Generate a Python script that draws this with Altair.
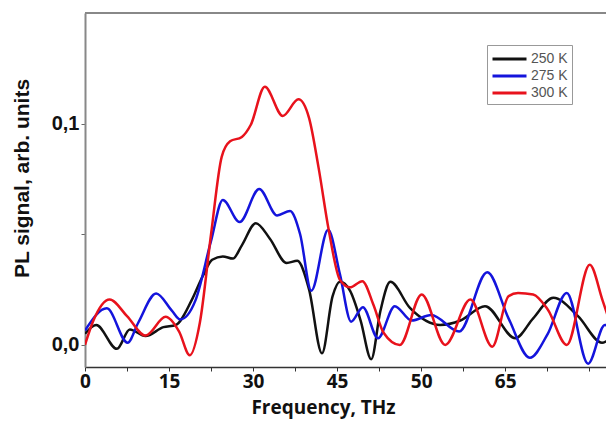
import altair as alt
import pandas as pd

# ---- data (x in axis units, y in arb. units) ----
red_x = [0, 1.5, 4.4, 7.5, 10.8, 14.4, 16.8, 18.7, 20.5, 22.5, 24.4, 25.9, 28.0, 29.6, 32.1,
         35.3, 38.1, 40.0, 41.7, 43.5, 45.5, 47.3, 49.5, 51.5, 53.3, 56.2, 60.1, 64.3, 68.8,
         72.7, 75.6, 77.3, 80.0, 82.6, 86.0, 90.1, 92.4, 94.4]
red_y = [0.000, 0.011, 0.0205, 0.013, 0.0042, 0.0127, 0.006, -0.0047, 0.010, 0.050, 0.085,
         0.092, 0.094, 0.0995, 0.1167, 0.1035, 0.111, 0.1025, 0.080, 0.052, 0.0294, 0.026,
         0.0288, 0.018, 0.0055, 0.000, 0.0228, 0.000, 0.0205, -0.0008, 0.022, 0.0235, 0.0228,
         0.016, 0.000, 0.0362, 0.020, 0.005]

black_x = [0, 2.0, 5.7, 8.0, 10.8, 14.0, 16.2, 19.0, 21.0, 22.7, 24.6, 26.4, 28.0, 30.5, 33.0,
           36.0, 37.9, 40.0, 42.3, 44.2, 45.5, 47.3, 49.2, 51.1, 52.7, 54.5, 58.0, 63.4, 67.0,
           71.4, 76.8, 80.0, 83.6, 88.0, 92.3, 94.4]
black_y = [0.005, 0.009, -0.0018, 0.007, 0.004, 0.008, 0.009, 0.020, 0.031, 0.0385, 0.040,
           0.039, 0.045, 0.055, 0.048, 0.037, 0.038, 0.025, -0.0038, 0.022, 0.0285, 0.0245,
           0.011, -0.0065, 0.015, 0.0285, 0.0167, 0.009, 0.011, 0.0175, 0.003, 0.012, 0.0213,
           0.013, 0.001, 0.0045]

blue_x = [0, 3.9, 7.6, 9.5, 12.7, 15.5, 17.0, 19.7, 22.5, 24.6, 27.6, 31.1, 34.3, 36.6, 38.4,
          40.4, 43.4, 45.5, 47.5, 49.6, 52.3, 55.3, 58.3, 61.8, 66.8, 71.8, 75.6, 79.4, 82.6,
          86.0, 89.8, 92.8, 94.4]
blue_y = [0.0065, 0.0165, 0.001, 0.010, 0.0232, 0.0155, 0.0115, 0.020, 0.047, 0.0655, 0.0555,
          0.0705, 0.0585, 0.0605, 0.050, 0.0245, 0.052, 0.032, 0.0105, 0.017, 0.003, 0.0175,
          0.011, 0.0135, 0.006, 0.0328, 0.012, -0.0058, 0.005, 0.0235, -0.0085, 0.009, 0.006]

series_names = ["250 K", "275 K", "300 K"]
series_colors = ["#111111", "#1414dc", "#e8121c"]

x_tick_values = [0, 7.5, 15, 22.5, 30, 37.5, 45, 52.5, 60, 67.5, 75, 82.5, 90]
x_tick_labels = ["0", "", "15", "", "30", "", "45", "", "50", "", "65", "", ""]
y_tick_values = [0, 0.05, 0.1]
y_tick_labels = ["0,0", "", "0,1"]

rows = []
for name, xs, ys in [("250 K", black_x, black_y), ("275 K", blue_x, blue_y), ("300 K", red_x, red_y)]:
    for xv, yv in zip(xs, ys):
        rows.append({"f": xv, "s": yv, "T": name})
df = pd.DataFrame(rows)


def label_expr(values, labels):
    expr = "''"
    for v, l in zip(values, labels):
        expr = f"datum.value == {v} ? '{l}' : ({expr})"
    return expr


x_scale = alt.Scale(domain=[0, 93.0], nice=False, zero=False)
y_scale = alt.Scale(domain=[-0.01, 0.15], nice=False, zero=False)

lines = alt.Chart(df).mark_line(strokeWidth=2.5, interpolate="monotone", clip=True).encode(
    x=alt.X("f:Q", scale=x_scale,
            axis=alt.Axis(title="Frequency, THz", values=x_tick_values,
                          labelExpr=label_expr(x_tick_values, x_tick_labels),
                          grid=False, tickSize=4, labelPadding=1, labelFont="Open Sans",
                          labelFontWeight="bold", labelFontSize=19, labelColor="#111",
                          labelFlush=False, labelOverlap=False,
                          titleFont="Open Sans", titleFontWeight="bold", titleFontSize=19,
                          titleColor="#111", titleX=238, titleY=46, titleAlign="center",
                          titleBaseline="alphabetic", domainColor="#333", domainWidth=1.5,
                          tickColor="#333")),
    y=alt.Y("s:Q", scale=y_scale,
            axis=alt.Axis(title="PL signal, arb. units", values=y_tick_values,
                          labelExpr=label_expr(y_tick_values, y_tick_labels),
                          grid=False, tickSize=4, labelPadding=2, labelFont="Liberation Sans",
                          labelFontWeight="bold", labelFontSize=20, labelColor="#111",
                          labelFlush=False, labelOverlap=False,
                          titleFont="Liberation Sans", titleFontWeight="bold", titleFontSize=21,
                          titleColor="#111", titleX=-63, titleY=165, titleAlign="center",
                          titleBaseline="middle", titleAngle=270,
                          domainColor="#888", domainWidth=2, tickColor="#666")),
    color=alt.Color("T:N", scale=alt.Scale(domain=series_names, range=series_colors),
                    legend=alt.Legend(title=None, orient="none", legendX=402, legendY=32,
                                      symbolType="M-1,0H3", symbolSize=289,
                                      symbolStrokeWidth=3, labelFont="Liberation Sans",
                                      labelFontSize=14, labelColor="#555", labelOffset=20,
                                      strokeColor="#999", padding=4, rowPadding=0)),
    order=alt.Order("f:Q"),
)

top_frame = alt.Chart(pd.DataFrame({"top": [0.15]})).mark_rule(color="#888", strokeWidth=2).encode(
    y=alt.Y("top:Q", scale=y_scale)
)

chart = alt.layer(lines, top_frame).properties(
    width=521, height=354,
    autosize=alt.AutoSizeParams(type="none"),
    padding={"left": 77, "top": 5, "right": 0, "bottom": 52},
).configure_view(stroke=None).configure(background="white")

chart.save("out.html", embed_options={"renderer": "svg", "actions": False})
